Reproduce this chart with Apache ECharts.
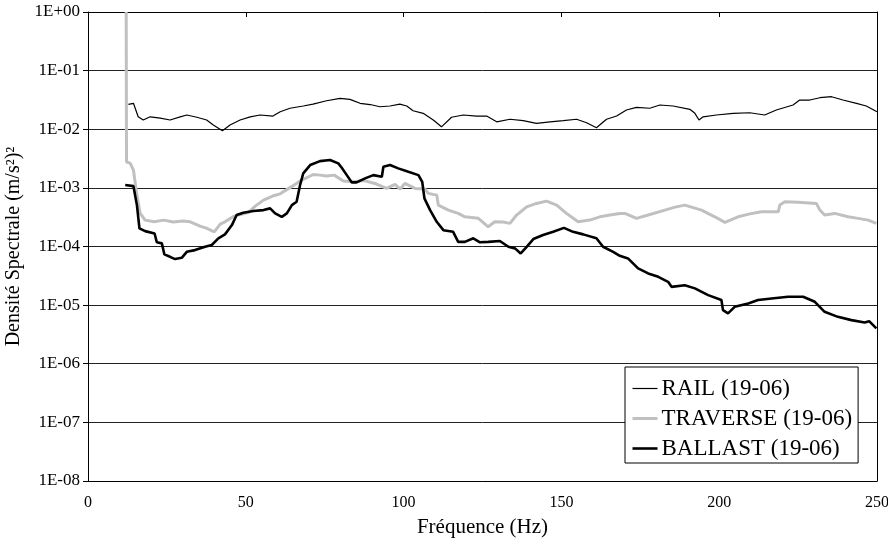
<!DOCTYPE html>
<html>
<head>
<meta charset="utf-8">
<script src="https://cdn.jsdelivr.net/npm/echarts@6/dist/echarts.min.js"></script>
<style>
html,body{margin:0;padding:0;background:#fff;}
#chart{width:888px;height:545px;}
</style>
</head>
<body>
<div id="chart"></div>
<script>
// ---- Data ----
const seriesNames = ['RAIL (19-06)', 'TRAVERSE (19-06)', 'BALLAST (19-06)'];
const xTickLabels = ['0', '50', '100', '150', '200', '250'];
const yTickLabels = ['1E-08', '1E-07', '1E-06', '1E-05', '1E-04', '1E-03', '1E-02', '1E-01', '1E+00'];

const railFreq = [12.8, 14.4, 15.9, 17.5, 19.7, 22.9, 26.0, 29.2, 31.3, 34.5, 37.6, 39.7, 42.6, 45.0, 48.2, 51.4, 54.5, 58.6, 60.9, 64.0, 68.2, 71.3, 75.6, 79.9, 83.0, 86.2, 89.4, 92.5, 95.7, 98.8, 101.0, 103.0, 106.2, 109.4, 112.0, 115.2, 118.9, 123.1, 126.3, 129.5, 133.7, 137.9, 142.1, 146.4, 150.6, 154.8, 158.0, 161.1, 164.3, 167.5, 170.6, 173.8, 178.0, 181.2, 185.4, 190.7, 192.3, 193.6, 194.9, 199.1, 204.4, 209.7, 214.4, 218.1, 223.4, 225.5, 228.7, 231.9, 235.6, 239.2, 243.5, 246.6, 250.0];
const railValues = [0.0266, 0.0277, 0.0163, 0.0144, 0.0163, 0.0155, 0.0144, 0.0163, 0.0175, 0.0160, 0.0144, 0.0118, 0.00942, 0.0118, 0.0144, 0.0163, 0.0175, 0.0168, 0.0199, 0.0228, 0.0249, 0.0269, 0.0306, 0.0337, 0.0324, 0.0277, 0.0264, 0.0242, 0.0249, 0.0269, 0.0249, 0.0207, 0.0187, 0.0144, 0.0110, 0.0160, 0.0175, 0.0168, 0.0168, 0.0134, 0.0148, 0.0140, 0.0126, 0.0134, 0.0140, 0.0148, 0.0129, 0.0106, 0.0148, 0.0168, 0.0213, 0.0236, 0.0228, 0.0259, 0.0249, 0.0219, 0.0187, 0.0144, 0.0163, 0.0175, 0.0187, 0.0191, 0.0175, 0.0213, 0.0259, 0.0315, 0.0315, 0.0345, 0.0359, 0.0315, 0.0277, 0.0249, 0.0199];

const traverseFreq = [12.1, 12.2, 13.4, 14.4, 15.5, 16.5, 18.1, 21.0, 24.0, 27.0, 30.0, 32.4, 35.5, 37.5, 40.0, 41.9, 43.4, 46.3, 50.8, 53.0, 55.6, 58.5, 60.9, 64.5, 67.7, 71.4, 73.5, 75.6, 78.0, 80.9, 84.1, 87.5, 90.9, 94.6, 97.3, 98.9, 100.4, 103.6, 106.8, 107.8, 110.5, 111.0, 114.2, 117.3, 119.4, 123.7, 126.8, 128.9, 131.5, 133.7, 135.8, 139.0, 142.1, 145.3, 148.5, 151.6, 155.3, 159.0, 162.2, 165.4, 168.5, 170.1, 173.8, 177.5, 182.8, 186.0, 189.1, 194.4, 198.6, 201.8, 206.0, 209.7, 213.4, 218.7, 219.2, 220.8, 225.0, 230.8, 231.9, 233.4, 236.6, 240.8, 244.0, 247.2, 249.8];
const traverseValues = [1.0, 0.00279, 0.00262, 0.00201, 0.000753, 0.000372, 0.000282, 0.000264, 0.000282, 0.000261, 0.000273, 0.000264, 0.000223, 0.000206, 0.000178, 0.000241, 0.000264, 0.000330, 0.000379, 0.000489, 0.000619, 0.000725, 0.000791, 0.00105, 0.00136, 0.00169, 0.00165, 0.00159, 0.00165, 0.00131, 0.00127, 0.00133, 0.00119, 0.000980, 0.00115, 0.000955, 0.00119, 0.000980, 0.000955, 0.000805, 0.000753, 0.000508, 0.000418, 0.000367, 0.000321, 0.000302, 0.000217, 0.000264, 0.000261, 0.000248, 0.000344, 0.000475, 0.000543, 0.000595, 0.000508, 0.000367, 0.000264, 0.000282, 0.000321, 0.000344, 0.000367, 0.000367, 0.000302, 0.000344, 0.000418, 0.000470, 0.000508, 0.000418, 0.000321, 0.000258, 0.000321, 0.000360, 0.000391, 0.000391, 0.000508, 0.000579, 0.000566, 0.000543, 0.000418, 0.000344, 0.000367, 0.000321, 0.000302, 0.000282, 0.000248];

const ballastFreq = [11.8, 14.4, 15.5, 16.3, 18.1, 21.1, 21.8, 23.4, 24.2, 26.0, 27.6, 29.7, 31.3, 33.9, 37.1, 39.2, 41.3, 43.4, 45.6, 47.1, 49.2, 52.4, 55.6, 57.7, 59.3, 61.4, 63.0, 64.6, 66.1, 67.2, 68.2, 70.4, 73.5, 76.7, 79.3, 80.4, 82.0, 83.6, 85.1, 87.8, 90.4, 93.1, 93.6, 95.7, 98.3, 101.5, 104.7, 105.9, 106.6, 108.4, 110.5, 112.6, 115.7, 117.3, 119.4, 122.1, 124.2, 126.8, 130.5, 133.2, 135.3, 137.1, 139.0, 141.1, 144.2, 147.4, 150.8, 153.7, 156.9, 161.1, 163.2, 166.4, 168.5, 171.1, 174.3, 177.5, 180.7, 183.8, 184.9, 189.1, 192.3, 196.5, 200.7, 201.2, 202.8, 204.9, 209.2, 212.3, 216.6, 221.8, 226.6, 230.3, 233.4, 237.6, 241.9, 246.1, 247.5, 249.8];
const ballastValues = [0.00112, 0.00107, 0.000508, 0.000204, 0.000183, 0.000167, 0.000118, 0.000113, 0.0000733, 0.0000667, 0.0000610, 0.0000641, 0.0000812, 0.0000868, 0.0000989, 0.000106, 0.000138, 0.000161, 0.000232, 0.000344, 0.000376, 0.000402, 0.000418, 0.000447, 0.000367, 0.000321, 0.000367, 0.000508, 0.000579, 0.00112, 0.00177, 0.00245, 0.00286, 0.00298, 0.00262, 0.00220, 0.00165, 0.00124, 0.00124, 0.00145, 0.00165, 0.00155, 0.00229, 0.00245, 0.00215, 0.00188, 0.00165, 0.00127, 0.000662, 0.000418, 0.000264, 0.000190, 0.000178, 0.000120, 0.000120, 0.000138, 0.000118, 0.000120, 0.000124, 0.0000989, 0.0000929, 0.0000762, 0.0000989, 0.000134, 0.000157, 0.000178, 0.000208, 0.000178, 0.000161, 0.000138, 0.0000989, 0.0000812, 0.0000694, 0.0000627, 0.0000423, 0.0000347, 0.0000304, 0.0000250, 0.0000205, 0.0000219, 0.0000193, 0.0000148, 0.0000122, 0.00000822, 0.00000722, 0.00000935, 0.0000107, 0.0000122, 0.0000130, 0.0000139, 0.0000139, 0.0000114, 0.00000769, 0.00000631, 0.00000555, 0.00000507, 0.00000533, 0.00000400];

const zip = (xs, ys) => xs.map((x, i) => [x, ys[i]]);
const FONT = '"Liberation Serif", "Times New Roman", serif';
const lineColors = ['#000', '#c0c0c0', '#000'];
const lineWidths = [1.2, 3, 2.6];

const chart = echarts.init(document.getElementById('chart'), null, {renderer: 'canvas'});
chart.setOption({
  animation: false,
  backgroundColor: '#fff',
  textStyle: {fontFamily: FONT, color: '#000'},
  grid: {left: 88, right: 11, top: 12, bottom: 64, containLabel: false, outerBoundsMode: 'none'},
  legend: {
    orient: 'vertical',
    left: 625, top: 367,
    data: seriesNames.map((n, i) => ({
      name: n,
      itemStyle: {opacity: 0},
      lineStyle: {color: lineColors[i], width: lineWidths[i]}
    })),
    backgroundColor: '#fff',
    borderColor: '#000',
    borderWidth: 1,
    padding: [10, 6, 3, 6],
    itemGap: 7,
    itemWidth: 25,
    itemHeight: 14,
    textStyle: {fontFamily: FONT, fontSize: 23, color: '#000', padding: [0, 0, 0, -1]}
  },
  xAxis: [{
    type: 'value', min: 0, max: 250, interval: 50,
    name: 'Fréquence (Hz)', nameLocation: 'middle', nameGap: 36,
    nameTextStyle: {fontFamily: FONT, fontSize: 21, color: '#000'},
    axisLine: {show: true, lineStyle: {color: '#000', width: 1}},
    axisTick: {show: false},
    axisLabel: {fontFamily: FONT, fontSize: 16, color: '#000', margin: 14,
      formatter: (v) => xTickLabels[Math.round(v / 50)]},
    splitLine: {show: false}
  }, {
    type: 'value', min: 0, max: 250, interval: 50, position: 'top',
    axisLine: {show: true, onZero: false, lineStyle: {color: '#000', width: 1}},
    axisTick: {show: true, inside: true, length: 5, lineStyle: {color: '#000'}},
    axisLabel: {show: false},
    splitLine: {show: false}
  }],
  yAxis: [{
    type: 'log', logBase: 10, min: 1e-8, max: 1, interval: 1,
    name: 'Densité Spectrale (m/s²)²', nameLocation: 'middle', nameGap: 55,
    nameTextStyle: {fontFamily: FONT, fontSize: 20, color: '#000'},
    axisLine: {show: true, lineStyle: {color: '#000', width: 1}},
    axisTick: {show: true, length: 5, lineStyle: {color: '#000'}},
    axisLabel: {fontFamily: FONT, fontSize: 17, color: '#000', margin: 8,
      formatter: (v) => {
        const e = Math.round(Math.log10(v));
        return yTickLabels[e + 8];
      }},
    splitLine: {show: true, lineStyle: {color: '#222', width: 1}}
  }, {
    type: 'value', min: 0, max: 1, position: 'right',
    axisLine: {show: true, onZero: false, lineStyle: {color: '#000', width: 1}},
    axisTick: {show: false}, axisLabel: {show: false}, splitLine: {show: false}
  }],
  series: [{
    name: seriesNames[0], type: 'line', symbol: 'none', data: zip(railFreq, railValues),
    lineStyle: {color: lineColors[0], width: lineWidths[0]}, itemStyle: {color: lineColors[0]}, z: 3
  }, {
    name: seriesNames[1], type: 'line', symbol: 'none', data: zip(traverseFreq, traverseValues),
    lineStyle: {color: lineColors[1], width: lineWidths[1]}, itemStyle: {color: lineColors[1]}, z: 2
  }, {
    name: seriesNames[2], type: 'line', symbol: 'none', data: zip(ballastFreq, ballastValues),
    lineStyle: {color: lineColors[2], width: lineWidths[2]}, itemStyle: {color: lineColors[2]}, z: 4
  }]
});
</script>
</body>
</html>
